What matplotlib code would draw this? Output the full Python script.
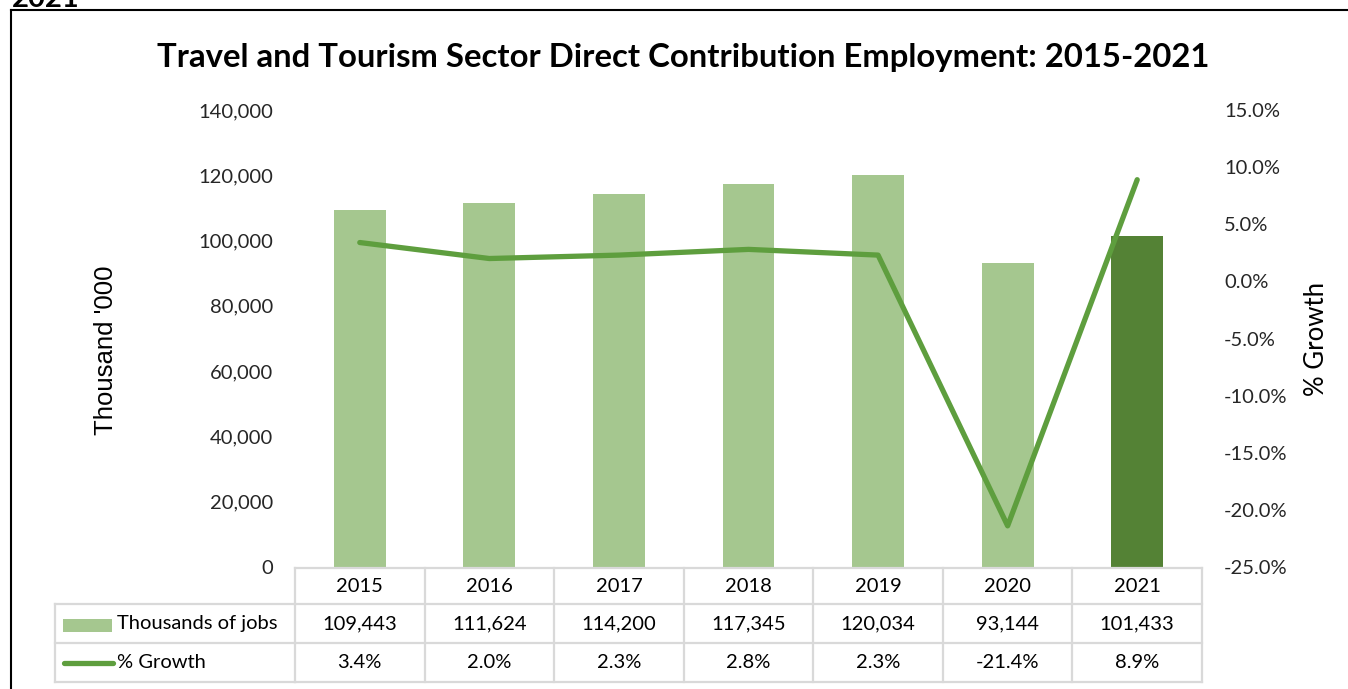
import matplotlib
matplotlib.use("Agg")
import matplotlib.pyplot as plt
from matplotlib.lines import Line2D
from matplotlib.patches import Rectangle
from matplotlib.ticker import FuncFormatter, MultipleLocator
from matplotlib.transforms import blended_transform_factory

# ---- data -------------------------------------------------------------
years = ["2015", "2016", "2017", "2018", "2019", "2020", "2021"]
jobs = [109443, 111624, 114200, 117345, 120034, 93144, 101433]
growth = [3.4, 2.0, 2.3, 2.8, 2.3, -21.4, 8.9]
jobs_labels = [f"{v:,}" for v in jobs]
growth_labels = [f"{g:.1f}%" for g in growth]

title = "Travel and Tourism Sector Direct Contribution Employment: 2015-2021"
series_names = ["Thousands of jobs", "% Growth"]

# ---- styling ----------------------------------------------------------
FONT = ["Lato", "DejaVu Sans"]
LIGHT = "#A5C78F"
DARK = "#548235"
LINE = "#5E9E3E"
GRID = "#D9D9D9"
TXT = "#262626"

W, H = 1348, 689
fig = plt.figure(figsize=(W / 100, H / 100), dpi=100)


def fx(px):
    return px / W


def fy(py):
    return 1 - py / H


# plot area
x0, x1, ytop, ybot = 295, 1202, 110, 567
ax = fig.add_axes([fx(x0), fy(ybot), fx(x1 - x0), (ybot - ytop) / H])
xs = list(range(len(years)))
colors = [LIGHT] * (len(years) - 1) + [DARK]
ax.bar(xs, jobs, width=0.4, color=colors, zorder=2)
ax.set_xlim(-0.5, len(years) - 0.5)
ax.set_ylim(0, 140000)
ax.yaxis.set_major_locator(MultipleLocator(20000))
ax.yaxis.set_major_formatter(FuncFormatter(lambda v, p: f"{int(v):,}"))
ax.set_xticks([])
for s in ax.spines.values():
    s.set_visible(False)
ax.tick_params(axis="y", length=0, pad=16, labelsize=14.5, labelcolor=TXT)
for lbl in ax.get_yticklabels():
    lbl.set_fontfamily(FONT)

ax2 = ax.twinx()
ax2.plot(xs, growth, color=LINE, lw=3.8, solid_capstyle="round",
         solid_joinstyle="round", zorder=3)
ax2.set_ylim(-25, 15)
ax2.yaxis.set_major_locator(MultipleLocator(5))
ax2.yaxis.set_major_formatter(FuncFormatter(lambda v, p: f"{v:.1f}%"))
for s in ax2.spines.values():
    s.set_visible(False)
ax2.tick_params(axis="y", length=0, pad=16, labelsize=14.5, labelcolor=TXT)
for lbl in ax2.get_yticklabels():
    lbl.set_fontfamily(FONT)

# titles and axis labels
fig.text(fx(683), fy(58), title, ha="center", va="center",
         fontsize=23.7, fontweight="bold", family=FONT, color="black")
fig.text(fx(106), fy(350), "Thousand '000", rotation=90, ha="center",
         va="center", fontsize=18.5, family=["Liberation Sans", "DejaVu Sans"],
         color="black")
fig.text(fx(1316), fy(339), "% Growth", rotation=90, ha="center",
         va="center", fontsize=18.5, family=FONT, color="black")

# ---- data table under the plot ------------------------------------------
tr = blended_transform_factory(ax.transData, fig.transFigure)
row_y = [568, 604, 643, 682]
label_left = 55
lw = 1.6


def hline(xa, xb, y, trans):
    fig.add_artist(Line2D([xa, xb], [fy(y), fy(y)], color=GRID, lw=lw,
                          transform=trans, clip_on=False))


def vline(x, ya, yb, trans):
    fig.add_artist(Line2D([x, x], [fy(ya), fy(yb)], color=GRID, lw=lw,
                          transform=trans, clip_on=False))


lo, hi = -0.5, len(years) - 0.5
hline(lo, hi, row_y[0], tr)
for y in row_y[1:]:
    fig.add_artist(Line2D([fx(label_left), fx(x0)], [fy(y), fy(y)],
                          color=GRID, lw=lw, transform=fig.transFigure))
    hline(lo, hi, y, tr)
fig.add_artist(Line2D([fx(label_left)] * 2, [fy(row_y[1]), fy(row_y[3])],
                      color=GRID, lw=lw, transform=fig.transFigure))
for i in range(len(years) + 1):
    vline(i - 0.5, row_y[0], row_y[3], tr)

row_centers = [(row_y[k] + row_y[k + 1]) / 2 for k in range(3)]
for i, yr in enumerate(years):
    for k, txt in enumerate([yr, jobs_labels[i], growth_labels[i]]):
        fig.text(i, fy(row_centers[k]), txt, transform=tr, ha="center",
                 va="center", fontsize=14.5, family=FONT, color="black")

# legend keys inside the table
fig.add_artist(Rectangle((fx(63), fy(632)), fx(112 - 63), (632 - 619) / H,
                         facecolor=LIGHT, edgecolor="none",
                         transform=fig.transFigure))
fig.add_artist(Line2D([fx(64), fx(113)], [fy(663), fy(663)], color=LINE,
                      lw=3.8, solid_capstyle="round",
                      transform=fig.transFigure))
fig.text(fx(117), fy(row_centers[1]), series_names[0], ha="left",
         va="center", fontsize=14.5, family=FONT, color="black")
fig.text(fx(117), fy(row_centers[2]), series_names[1], ha="left",
         va="center", fontsize=14.5, family=FONT, color="black")

# outer frame of the chart object, with the heading above it running off the top
fig.add_artist(Line2D([fx(11), fx(11)], [fy(10), 0], color="black", lw=1.5,
                      transform=fig.transFigure))
fig.add_artist(Line2D([fx(11), 1], [fy(10), fy(10)], color="black", lw=1.5,
                      transform=fig.transFigure))
fig.text(fx(12), fy(7), "2021", ha="left", va="baseline", fontsize=21,
         fontweight="bold", family=FONT, color="black")

fig.savefig("out.png", dpi=100)
